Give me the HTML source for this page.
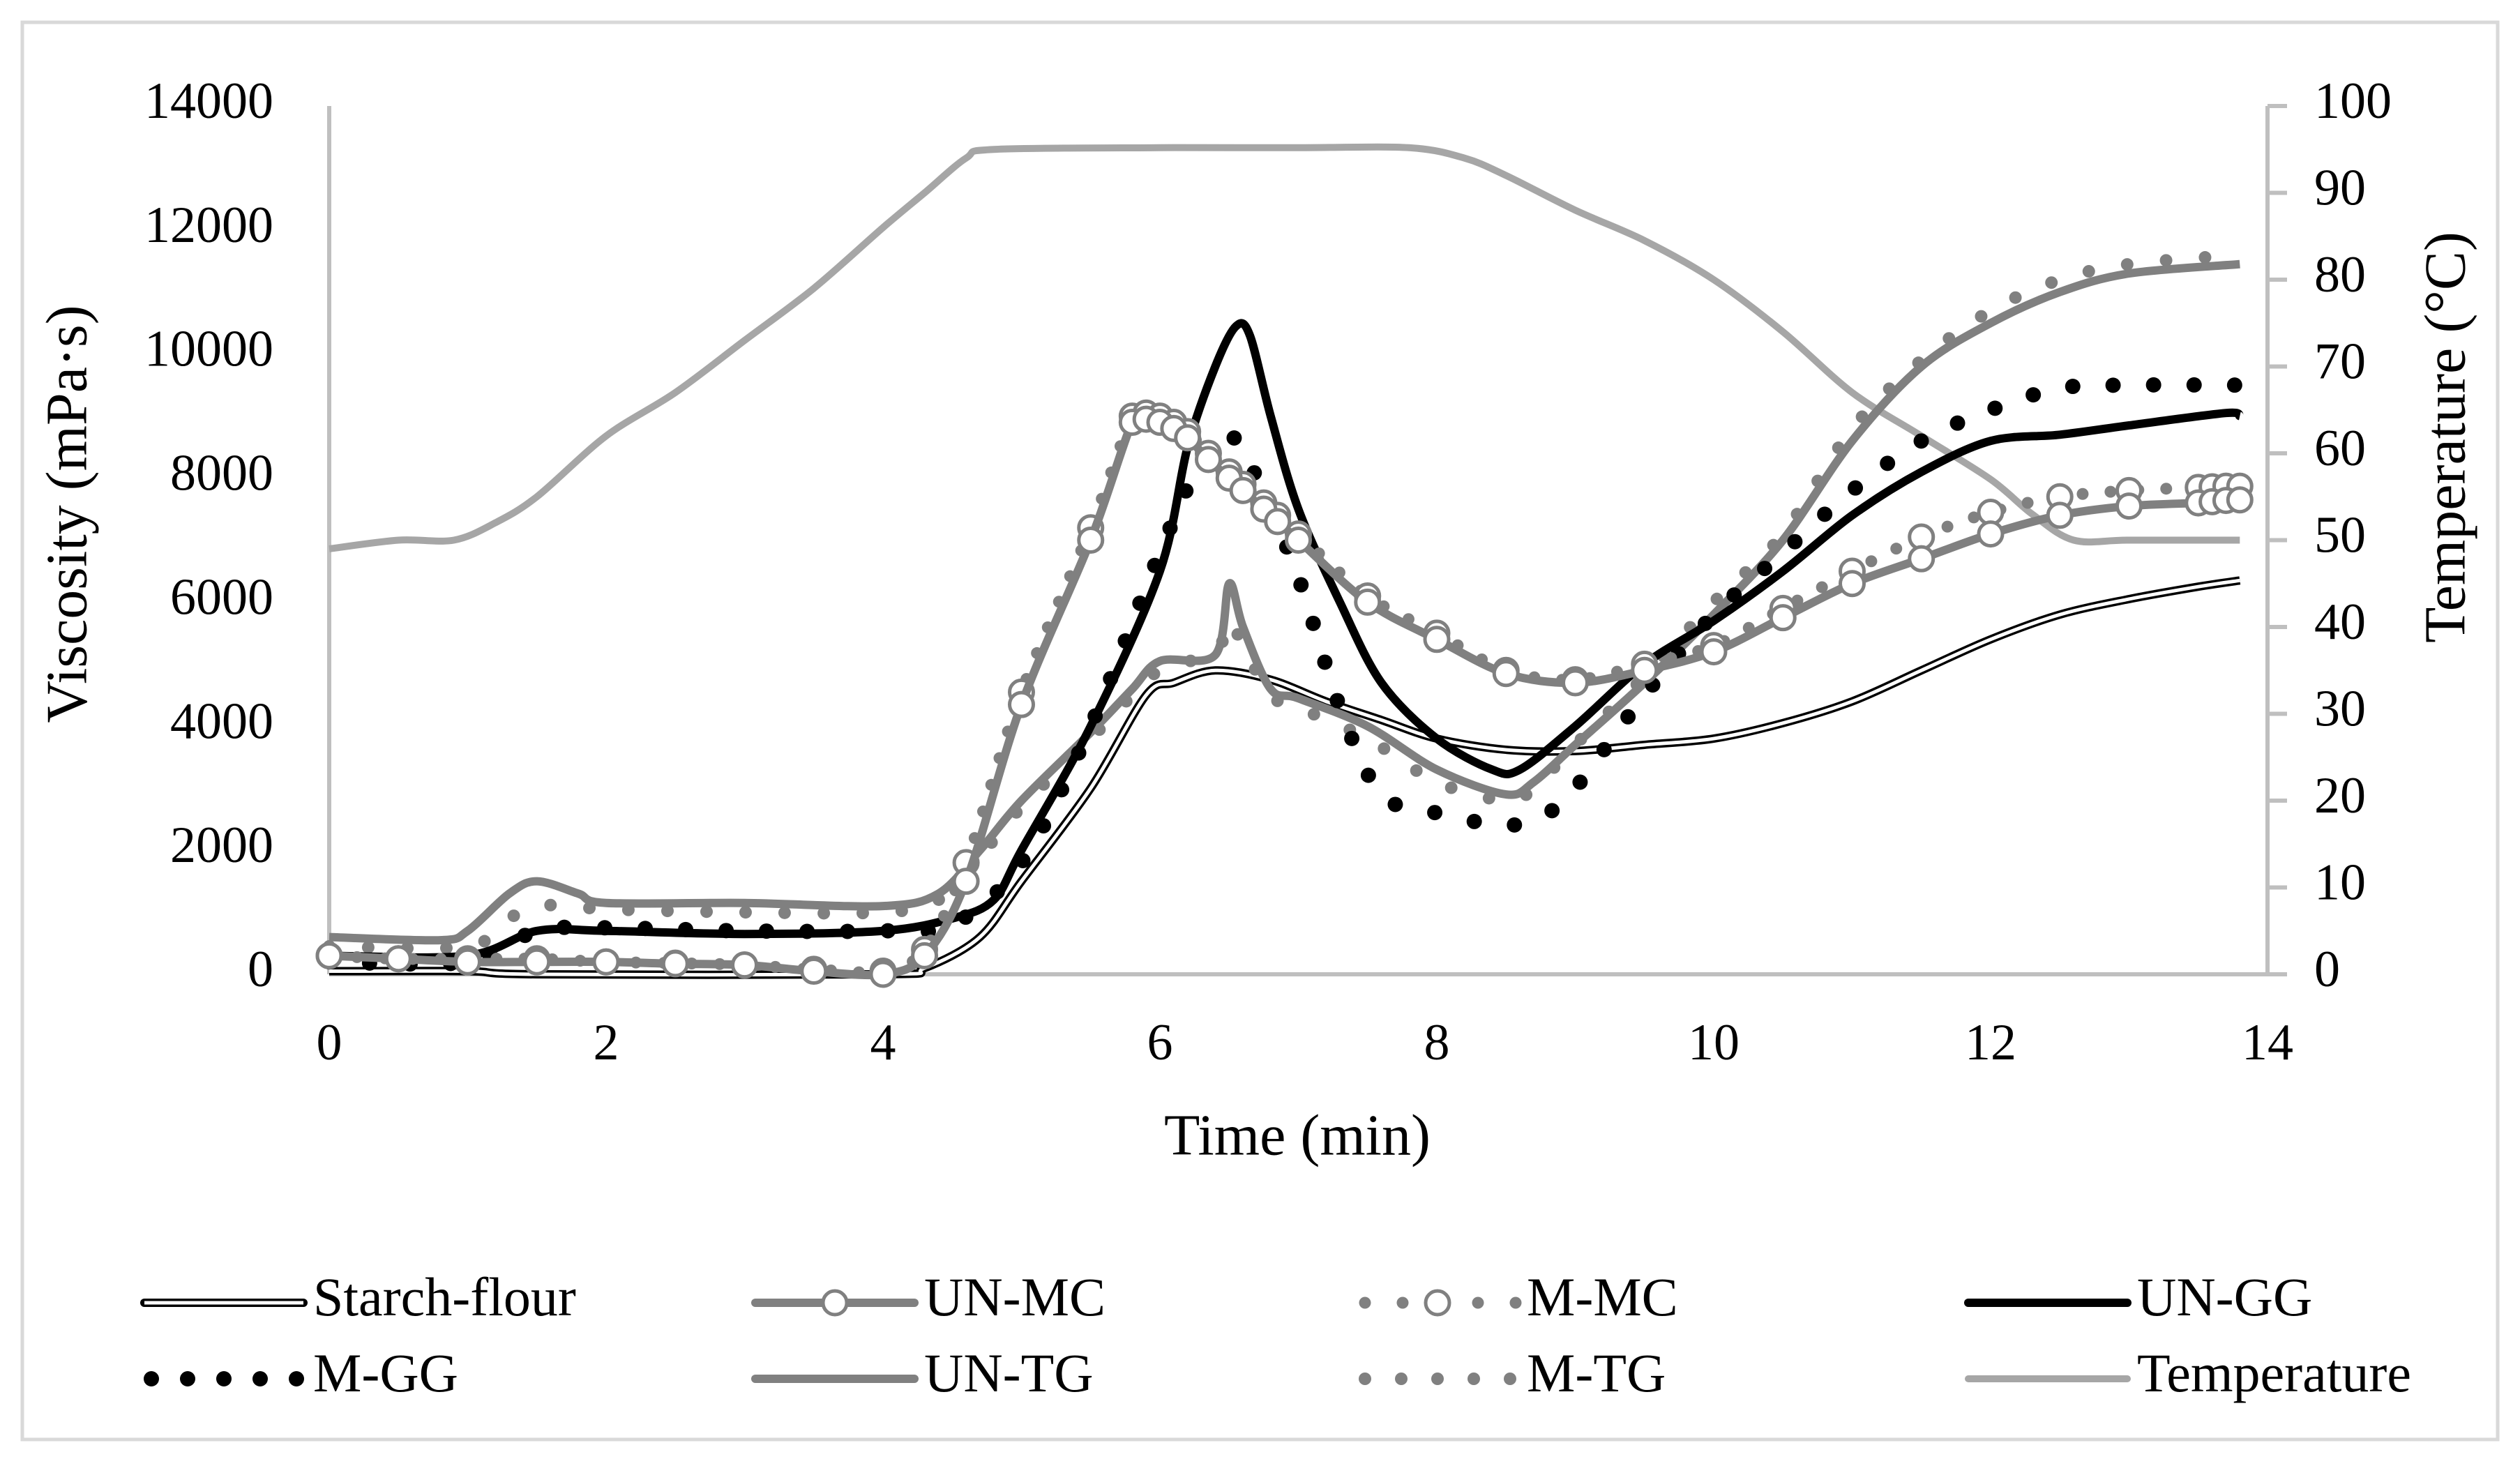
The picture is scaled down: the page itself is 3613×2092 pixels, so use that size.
<!DOCTYPE html>
<html><head><meta charset="utf-8"><style>
html,body{margin:0;padding:0;background:#fff;}
svg{display:block;font-family:"Liberation Serif",serif;}
</style></head><body>
<svg id="chart" width="3613" height="2092" viewBox="0 0 3613 2092" xmlns="http://www.w3.org/2000/svg">
<rect x="32" y="32" width="3549" height="2032" fill="#fff" stroke="#d9d9d9" stroke-width="5"/>
<g id="axes"></g>
<g id="series"></g>
<g id="legend"></g>
<text transform="translate(104,737) rotate(-90)" text-anchor="middle" dominant-baseline="middle" font-size="84">Viscosity (mPa·s)</text>
<text transform="translate(3514,627) rotate(-90)" text-anchor="middle" dominant-baseline="middle" font-size="84">Temperature (°C)</text>
<text x="1860" y="1636" text-anchor="middle" dominant-baseline="middle" font-size="84">Time (min)</text>
</svg>
<script>
const xTicks=[0,2,4,6,8,10,12,14];
const yTicks=[0,2000,4000,6000,8000,10000,12000,14000];
const y2Ticks=[0,10,20,30,40,50,60,70,80,90,100];

const tempT=[0,0.5,0.9,1.2,1.5,2,2.5,3,3.5,4,4.3,4.6,4.8,6,7,7.8,8.2,8.5,9,9.5,10,10.5,11,11.5,12,12.3,12.6,13,13.8];
const tempV=[49,50,50,52,55,62,67,73,79,86,90,94,95,95.2,95.2,95.2,94,92,88,84.5,80,74,67,62,57,53,50,50,50];

const sfT=[0,1,1.5,4,4.3,4.7,5,5.5,5.9,6.1,6.4,6.8,7.2,7.6,8,8.5,9,9.5,10,10.5,11,11.5,12,12.5,13,13.5,13.8];
const sfV=[50,50,0,0,100,600,1500,3000,4500,4700,4900,4750,4400,4100,3800,3620,3600,3700,3800,4050,4400,4900,5400,5800,6050,6250,6350];

const unmcT=[0,0.5,1,1.5,2,2.5,3,3.5,4,4.3,4.6,5,5.5,5.8,5.9,6,6.1,6.2,6.35,6.5,6.6,6.75,6.85,7,7.5,8,8.5,9,9.5,10,10.5,11,11.5,12,12.5,13,13.5,13.6,13.7,13.8];
const unmcV=[300,250,200,200,200,170,150,50,0,300,1500,4350,7000,8900,8950,8900,8800,8650,8300,8000,7800,7500,7300,7000,6000,5400,4850,4700,4900,5200,5750,6300,6700,7100,7400,7550,7600,7620,7640,7650];

const mmcT=[0,0.5,1,1.5,2,2.5,3,3.5,4,4.3,4.6,5,5.5,5.8,5.9,6,6.1,6.2,6.35,6.5,6.6,6.75,6.85,7,7.5,8,8.5,9,9.5,10,10.5,11,11.5,12,12.5,13,13.5,13.6,13.7,13.8];
const mmcV=[300,250,250,250,200,180,150,80,50,400,1800,4550,7200,9000,9050,9000,8900,8750,8400,8100,7900,7600,7400,7100,6100,5500,4900,4750,5000,5300,5900,6500,7050,7450,7700,7800,7850,7860,7870,7870];

const unggT=[0,1,1.5,2,3,4,4.5,4.8,5,5.5,6,6.2,6.4,6.55,6.65,6.8,7,7.3,7.6,8,8.4,8.6,9,9.5,10,10.5,11,11.5,12,12.5,13,13.7,13.8];
const unggV=[300,300,700,700,650,700,900,1200,2000,4000,6500,8500,9800,10450,10300,9000,7500,6000,4700,3800,3300,3300,4000,5000,5700,6500,7400,8100,8600,8700,8850,9050,9000];

const mggT=[0,1,1.5,2,3,4,4.5,5,5.5,6,6.3,6.5,6.7,7,7.3,7.6,8,8.5,8.8,9,9.5,10,10.5,11,11.5,12,12.5,13,13.8];
const mggV=[200,200,700,750,700,700,800,1800,4000,6800,8300,8700,8000,6400,4300,2900,2600,2400,2600,3000,4500,5800,6800,7800,8600,9100,9450,9500,9500];

const untgT=[0,0.8,1,1.3,1.5,1.8,2,3,4,4.4,4.7,5,5.5,5.8,6,6.4,6.5,6.6,6.8,7,7.5,8,8.5,8.7,9,9.5,10,10.5,11,11.5,12,12.5,13,13.8];
const untgV=[600,550,700,1300,1500,1300,1150,1150,1100,1300,2000,2800,3900,4600,5050,5150,6300,5600,4600,4450,4000,3300,2900,3100,3700,4700,5800,7000,8600,9800,10500,11000,11300,11450];

const mtgT=[0,1,1.3,1.5,1.8,2,3,4,4.4,4.7,5,5.5,5.8,6,6.4,6.5,6.6,6.8,7,7.5,8,8.5,8.7,9,9.5,10,10.5,11,11.5,12,12.5,13,13.8];
const mtgV=[450,450,900,1100,1100,1050,1000,1000,1200,1900,2700,3800,4500,4900,5200,5700,5300,4500,4300,3800,3100,2800,3000,3700,4800,6000,7100,8800,9900,10700,11200,11450,11600];

const X0=472,X1=3251,Y0=1397,Y1=152;
const sx=t=>X0+(X1-X0)*t/14;
const sy=v=>Y0-(Y0-Y1)*v/14000;
const sy2=v=>Y0-(Y0-Y1)*v/100;
const NS="http://www.w3.org/2000/svg";
function mk(tag,attrs,parent){const e=document.createElementNS(NS,tag);for(const k in attrs)e.setAttribute(k,attrs[k]);parent.appendChild(e);return e;}
function pathD(ts,vs,fy){
  const p=ts.map((t,i)=>[sx(t),fy(vs[i])]);
  let d=`M${p[0][0]},${p[0][1]}`;
  for(let i=0;i<p.length-1;i++){
    const a=p[Math.max(i-1,0)],b=p[i],c=p[i+1],e=p[Math.min(i+2,p.length-1)];
    const k=0.16;
    d+=` C${b[0]+(c[0]-a[0])*k},${b[1]+(c[1]-a[1])*k} ${c[0]-(e[0]-b[0])*k},${c[1]-(e[1]-b[1])*k} ${c[0]},${c[1]}`;
  }
  return d;
}
const axes=document.getElementById('axes');
const series=document.getElementById('series');
const legend=document.getElementById('legend');

let el=mk('line',{x1:X0,y1:Y1,x2:X0,y2:Y0,stroke:'#bfbfbf','stroke-width':6},axes);


el=mk('line',{x1:X1,y1:Y1,x2:X1,y2:Y0,stroke:'#bfbfbf','stroke-width':6},axes);


el=mk('line',{x1:X0,y1:Y0,x2:X1,y2:Y0,stroke:'#bfbfbf','stroke-width':6},axes);



yTicks.forEach(v=>{
  const t=mk('text',{x:392,y:sy(v),'text-anchor':'end','dominant-baseline':'middle','font-size':74},axes);
  t.textContent=v;
  
  
});
y2Ticks.forEach(v=>{
  const l=mk('line',{x1:X1,y1:sy2(v),x2:X1+28,y2:sy2(v),stroke:'#bfbfbf','stroke-width':6},axes);
  
  
  const t=mk('text',{x:3318,y:sy2(v),'text-anchor':'start','dominant-baseline':'middle','font-size':74},axes);
  t.textContent=v;
  
  
});
xTicks.forEach(v=>{
  const t=mk('text',{x:sx(v),y:1502,'text-anchor':'middle','dominant-baseline':'middle','font-size':74},axes);
  t.textContent=v;
  
  
});

const G='#808080', T='#a6a6a6';
// temperature
el=mk('path',{d:pathD(tempT,tempV,sy2),fill:'none',stroke:T,'stroke-width':10,'stroke-linejoin':'round'},series);


// starch flour
el=mk('path',{d:pathD(sfT,sfV,sy),fill:'none',stroke:'#000','stroke-width':12},series);


el=mk('path',{d:pathD(sfT,sfV,sy),fill:'none',stroke:'#fff','stroke-width':5},series);


// UN-TG
el=mk('path',{d:pathD(untgT,untgV,sy),fill:'none',stroke:G,'stroke-width':12,'stroke-linejoin':'round'},series);


// M-TG
el=mk('path',{d:pathD(mtgT,mtgV,sy),fill:'none',stroke:G,'stroke-width':18,'stroke-linecap':'round','stroke-dasharray':'0 56'},series);


// UN-GG
el=mk('path',{d:pathD(unggT,unggV,sy),fill:'none',stroke:'#000','stroke-width':12,'stroke-linejoin':'round'},series);


// M-GG
el=mk('path',{d:pathD(mggT,mggV,sy),fill:'none',stroke:'#000','stroke-width':22,'stroke-linecap':'round','stroke-dasharray':'0 58'},series);


// M-MC
el=mk('path',{d:pathD(mmcT,mmcV,sy),fill:'none',stroke:G,'stroke-width':17,'stroke-linecap':'round','stroke-dasharray':'0 40'},series);


mmcT.forEach((t,i)=>{
  const c=mk('circle',{cx:sx(t),cy:sy(mmcV[i]),r:17,fill:'#fff',stroke:G,'stroke-width':5},series);
  
  
});
// UN-MC
el=mk('path',{d:pathD(unmcT,unmcV,sy),fill:'none',stroke:G,'stroke-width':12,'stroke-linejoin':'round'},series);


unmcT.forEach((t,i)=>{
  const c=mk('circle',{cx:sx(t),cy:sy(unmcV[i]),r:17,fill:'#fff',stroke:G,'stroke-width':5},series);
  
  
});

// legend
const legNames=['Starch-flour','UN-MC','M-MC','UN-GG','M-GG','UN-TG','M-TG','Temperature'];
const legCols=[207,1083,1947,2822];
const legRows=[1868,1977];
legNames.forEach((n,i)=>{
  const x=legCols[i%4], y=legRows[Math.floor(i/4)], x2=x+228;
  const g=mk('g',{},legend);
  
  
  if(n==='Starch-flour'){
    mk('line',{x1:x,y1:y,x2:x2,y2:y,stroke:'#000','stroke-width':12,'stroke-linecap':'round'},g);
    mk('line',{x1:x,y1:y,x2:x2,y2:y,stroke:'#fff','stroke-width':5},g);
  } else if(n==='UN-MC'){
    mk('line',{x1:x,y1:y,x2:x2,y2:y,stroke:G,'stroke-width':12,'stroke-linecap':'round'},g);
    mk('circle',{cx:(x+x2)/2,cy:y,r:17,fill:'#fff',stroke:G,'stroke-width':5},g);
  } else if(n==='M-MC'){
    mk('line',{x1:x+10,y1:y,x2:x2,y2:y,stroke:G,'stroke-width':17,'stroke-linecap':'round','stroke-dasharray':'0 54'},g);
    mk('circle',{cx:(x+x2)/2,cy:y,r:17,fill:'#fff',stroke:G,'stroke-width':5},g);
  } else if(n==='UN-GG'){
    mk('line',{x1:x,y1:y,x2:x2,y2:y,stroke:'#000','stroke-width':12,'stroke-linecap':'round'},g);
  } else if(n==='M-GG'){
    mk('line',{x1:x+10,y1:y,x2:x2,y2:y,stroke:'#000','stroke-width':22,'stroke-linecap':'round','stroke-dasharray':'0 52'},g);
  } else if(n==='UN-TG'){
    mk('line',{x1:x,y1:y,x2:x2,y2:y,stroke:G,'stroke-width':12,'stroke-linecap':'round'},g);
  } else if(n==='M-TG'){
    mk('line',{x1:x+10,y1:y,x2:x2,y2:y,stroke:G,'stroke-width':18,'stroke-linecap':'round','stroke-dasharray':'0 52'},g);
  } else {
    mk('line',{x1:x,y1:y,x2:x2,y2:y,stroke:T,'stroke-width':10,'stroke-linecap':'round'},g);
  }
  const t=mk('text',{x:x2+14,y:y,'dominant-baseline':'middle','font-size':78},g);
  t.textContent=n;
});
</script>
</body></html>
